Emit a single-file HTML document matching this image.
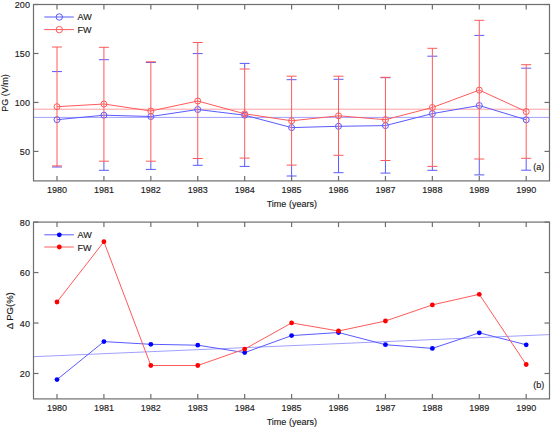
<!DOCTYPE html>
<html><head><meta charset="utf-8"><style>
html,body{margin:0;padding:0;background:#fff;}
body{width:551px;height:428px;overflow:hidden;}
svg{display:block;font-family:"Liberation Sans",sans-serif;font-size:9.5px;fill:#1a1a1a;}
text{stroke:#1a1a1a;stroke-width:0.15px;}
</style></head><body>
<svg width="551" height="428" viewBox="0 0 551 428">
<rect x="0" y="0" width="551" height="428" fill="#fff"/>
<line x1="33.5" y1="109.2" x2="549.5" y2="109.2" stroke="#ffa0a0" stroke-width="1"/>
<line x1="33.5" y1="117.4" x2="549.5" y2="117.4" stroke="#a0a0ff" stroke-width="1"/>
<line x1="57" y1="165.9" x2="57" y2="167" stroke="#5a5aff" stroke-width="1" />
<line x1="52" y1="71.6" x2="62" y2="71.6" stroke="#5a5aff" stroke-width="1" />
<line x1="52" y1="167.0" x2="62" y2="167.0" stroke="#5a5aff" stroke-width="1" />
<line x1="103.92" y1="161.2" x2="103.92" y2="170.3" stroke="#5a5aff" stroke-width="1" />
<line x1="98.92" y1="59.7" x2="108.92" y2="59.7" stroke="#5a5aff" stroke-width="1" />
<line x1="98.92" y1="170.3" x2="108.92" y2="170.3" stroke="#5a5aff" stroke-width="1" />
<line x1="150.84" y1="161.2" x2="150.84" y2="169.4" stroke="#5a5aff" stroke-width="1" />
<line x1="145.84" y1="62.5" x2="155.84" y2="62.5" stroke="#5a5aff" stroke-width="1" />
<line x1="145.84" y1="169.4" x2="155.84" y2="169.4" stroke="#5a5aff" stroke-width="1" />
<line x1="197.76" y1="158.5" x2="197.76" y2="165.3" stroke="#5a5aff" stroke-width="1" />
<line x1="192.76" y1="53.6" x2="202.76" y2="53.6" stroke="#5a5aff" stroke-width="1" />
<line x1="192.76" y1="165.3" x2="202.76" y2="165.3" stroke="#5a5aff" stroke-width="1" />
<line x1="244.68" y1="63.4" x2="244.68" y2="69" stroke="#5a5aff" stroke-width="1" />
<line x1="244.68" y1="158.1" x2="244.68" y2="166.4" stroke="#5a5aff" stroke-width="1" />
<line x1="239.68" y1="63.4" x2="249.68" y2="63.4" stroke="#5a5aff" stroke-width="1" />
<line x1="239.68" y1="166.4" x2="249.68" y2="166.4" stroke="#5a5aff" stroke-width="1" />
<line x1="291.6" y1="165.1" x2="291.6" y2="176" stroke="#5a5aff" stroke-width="1" />
<line x1="286.6" y1="79.7" x2="296.6" y2="79.7" stroke="#5a5aff" stroke-width="1" />
<line x1="286.6" y1="176.0" x2="296.6" y2="176.0" stroke="#5a5aff" stroke-width="1" />
<line x1="338.52" y1="155.3" x2="338.52" y2="172.7" stroke="#5a5aff" stroke-width="1" />
<line x1="333.52" y1="79.3" x2="343.52" y2="79.3" stroke="#5a5aff" stroke-width="1" />
<line x1="333.52" y1="172.7" x2="343.52" y2="172.7" stroke="#5a5aff" stroke-width="1" />
<line x1="385.44" y1="160.5" x2="385.44" y2="173.1" stroke="#5a5aff" stroke-width="1" />
<line x1="380.44" y1="77.7" x2="390.44" y2="77.7" stroke="#5a5aff" stroke-width="1" />
<line x1="380.44" y1="173.1" x2="390.44" y2="173.1" stroke="#5a5aff" stroke-width="1" />
<line x1="432.36" y1="166.4" x2="432.36" y2="170.3" stroke="#5a5aff" stroke-width="1" />
<line x1="427.36" y1="56.2" x2="437.36" y2="56.2" stroke="#5a5aff" stroke-width="1" />
<line x1="427.36" y1="170.3" x2="437.36" y2="170.3" stroke="#5a5aff" stroke-width="1" />
<line x1="479.28" y1="159" x2="479.28" y2="174.9" stroke="#5a5aff" stroke-width="1" />
<line x1="474.28" y1="35.4" x2="484.28" y2="35.4" stroke="#5a5aff" stroke-width="1" />
<line x1="474.28" y1="174.9" x2="484.28" y2="174.9" stroke="#5a5aff" stroke-width="1" />
<line x1="526.2" y1="158.3" x2="526.2" y2="170.2" stroke="#5a5aff" stroke-width="1" />
<line x1="521.2" y1="68.2" x2="531.2" y2="68.2" stroke="#5a5aff" stroke-width="1" />
<line x1="521.2" y1="170.2" x2="531.2" y2="170.2" stroke="#5a5aff" stroke-width="1" />
<polyline points="57,119.7 103.92,115.2 150.84,116.5 197.76,109.5 244.68,115.2 291.6,127.6 338.52,126.3 385.44,125.6 432.36,113.6 479.28,105.5 526.2,119.8" fill="none" stroke="#5a5aff" stroke-width="1" />
<circle cx="57" cy="119.7" r="3.0" fill="none" stroke="#5a5aff" stroke-width="1" />
<circle cx="103.92" cy="115.2" r="3.0" fill="none" stroke="#5a5aff" stroke-width="1" />
<circle cx="150.84" cy="116.5" r="3.0" fill="none" stroke="#5a5aff" stroke-width="1" />
<circle cx="197.76" cy="109.5" r="3.0" fill="none" stroke="#5a5aff" stroke-width="1" />
<circle cx="244.68" cy="115.2" r="3.0" fill="none" stroke="#5a5aff" stroke-width="1" />
<circle cx="291.6" cy="127.6" r="3.0" fill="none" stroke="#5a5aff" stroke-width="1" />
<circle cx="338.52" cy="126.3" r="3.0" fill="none" stroke="#5a5aff" stroke-width="1" />
<circle cx="385.44" cy="125.6" r="3.0" fill="none" stroke="#5a5aff" stroke-width="1" />
<circle cx="432.36" cy="113.6" r="3.0" fill="none" stroke="#5a5aff" stroke-width="1" />
<circle cx="479.28" cy="105.5" r="3.0" fill="none" stroke="#5a5aff" stroke-width="1" />
<circle cx="526.2" cy="119.8" r="3.0" fill="none" stroke="#5a5aff" stroke-width="1" />
<line x1="57" y1="47" x2="57" y2="165.9" stroke="#ff5a5a" stroke-width="1" />
<line x1="52" y1="47.0" x2="62" y2="47.0" stroke="#ff5a5a" stroke-width="1" />
<line x1="52" y1="165.9" x2="62" y2="165.9" stroke="#ff5a5a" stroke-width="1" />
<line x1="103.92" y1="47.3" x2="103.92" y2="161.2" stroke="#ff5a5a" stroke-width="1" />
<line x1="98.92" y1="47.3" x2="108.92" y2="47.3" stroke="#ff5a5a" stroke-width="1" />
<line x1="98.92" y1="161.2" x2="108.92" y2="161.2" stroke="#ff5a5a" stroke-width="1" />
<line x1="150.84" y1="61.8" x2="150.84" y2="161.2" stroke="#ff5a5a" stroke-width="1" />
<line x1="145.84" y1="61.8" x2="155.84" y2="61.8" stroke="#ff5a5a" stroke-width="1" />
<line x1="145.84" y1="161.2" x2="155.84" y2="161.2" stroke="#ff5a5a" stroke-width="1" />
<line x1="197.76" y1="42.5" x2="197.76" y2="158.5" stroke="#ff5a5a" stroke-width="1" />
<line x1="192.76" y1="42.5" x2="202.76" y2="42.5" stroke="#ff5a5a" stroke-width="1" />
<line x1="192.76" y1="158.5" x2="202.76" y2="158.5" stroke="#ff5a5a" stroke-width="1" />
<line x1="244.68" y1="69" x2="244.68" y2="158.1" stroke="#ff5a5a" stroke-width="1" />
<line x1="239.68" y1="69.0" x2="249.68" y2="69.0" stroke="#ff5a5a" stroke-width="1" />
<line x1="239.68" y1="158.1" x2="249.68" y2="158.1" stroke="#ff5a5a" stroke-width="1" />
<line x1="291.6" y1="76.2" x2="291.6" y2="165.1" stroke="#ff5a5a" stroke-width="1" />
<line x1="286.6" y1="76.2" x2="296.6" y2="76.2" stroke="#ff5a5a" stroke-width="1" />
<line x1="286.6" y1="165.1" x2="296.6" y2="165.1" stroke="#ff5a5a" stroke-width="1" />
<line x1="338.52" y1="76.2" x2="338.52" y2="155.3" stroke="#ff5a5a" stroke-width="1" />
<line x1="333.52" y1="76.2" x2="343.52" y2="76.2" stroke="#ff5a5a" stroke-width="1" />
<line x1="333.52" y1="155.3" x2="343.52" y2="155.3" stroke="#ff5a5a" stroke-width="1" />
<line x1="385.44" y1="77.3" x2="385.44" y2="160.5" stroke="#ff5a5a" stroke-width="1" />
<line x1="380.44" y1="77.3" x2="390.44" y2="77.3" stroke="#ff5a5a" stroke-width="1" />
<line x1="380.44" y1="160.5" x2="390.44" y2="160.5" stroke="#ff5a5a" stroke-width="1" />
<line x1="432.36" y1="48.3" x2="432.36" y2="166.4" stroke="#ff5a5a" stroke-width="1" />
<line x1="427.36" y1="48.3" x2="437.36" y2="48.3" stroke="#ff5a5a" stroke-width="1" />
<line x1="427.36" y1="166.4" x2="437.36" y2="166.4" stroke="#ff5a5a" stroke-width="1" />
<line x1="479.28" y1="20.3" x2="479.28" y2="159" stroke="#ff5a5a" stroke-width="1" />
<line x1="474.28" y1="20.3" x2="484.28" y2="20.3" stroke="#ff5a5a" stroke-width="1" />
<line x1="474.28" y1="159.0" x2="484.28" y2="159.0" stroke="#ff5a5a" stroke-width="1" />
<line x1="526.2" y1="64.7" x2="526.2" y2="158.3" stroke="#ff5a5a" stroke-width="1" />
<line x1="521.2" y1="64.7" x2="531.2" y2="64.7" stroke="#ff5a5a" stroke-width="1" />
<line x1="521.2" y1="158.3" x2="531.2" y2="158.3" stroke="#ff5a5a" stroke-width="1" />
<polyline points="57,106.7 103.92,104.0 150.84,111.0 197.76,101.0 244.68,113.8 291.6,120.8 338.52,115.8 385.44,119.7 432.36,107.5 479.28,90.1 526.2,111.6" fill="none" stroke="#ff5a5a" stroke-width="1" />
<circle cx="57" cy="106.7" r="3.0" fill="none" stroke="#ff5a5a" stroke-width="1" />
<circle cx="103.92" cy="104.0" r="3.0" fill="none" stroke="#ff5a5a" stroke-width="1" />
<circle cx="150.84" cy="111.0" r="3.0" fill="none" stroke="#ff5a5a" stroke-width="1" />
<circle cx="197.76" cy="101.0" r="3.0" fill="none" stroke="#ff5a5a" stroke-width="1" />
<circle cx="244.68" cy="113.8" r="3.0" fill="none" stroke="#ff5a5a" stroke-width="1" />
<circle cx="291.6" cy="120.8" r="3.0" fill="none" stroke="#ff5a5a" stroke-width="1" />
<circle cx="338.52" cy="115.8" r="3.0" fill="none" stroke="#ff5a5a" stroke-width="1" />
<circle cx="385.44" cy="119.7" r="3.0" fill="none" stroke="#ff5a5a" stroke-width="1" />
<circle cx="432.36" cy="107.5" r="3.0" fill="none" stroke="#ff5a5a" stroke-width="1" />
<circle cx="479.28" cy="90.1" r="3.0" fill="none" stroke="#ff5a5a" stroke-width="1" />
<circle cx="526.2" cy="111.6" r="3.0" fill="none" stroke="#ff5a5a" stroke-width="1" />
<rect x="33.5" y="4.5" width="516" height="176.4" fill="none" stroke="#6e6e6e" stroke-width="1.2"/>
<line x1="57" y1="180.9" x2="57" y2="175.9" stroke="#6e6e6e" stroke-width="1.2"/>
<line x1="57" y1="4.5" x2="57" y2="9.5" stroke="#6e6e6e" stroke-width="1.2"/>
<text transform="translate(57,192.7) scale(0.95,1)" text-anchor="middle">1980</text>
<line x1="103.92" y1="180.9" x2="103.92" y2="175.9" stroke="#6e6e6e" stroke-width="1.2"/>
<line x1="103.92" y1="4.5" x2="103.92" y2="9.5" stroke="#6e6e6e" stroke-width="1.2"/>
<text transform="translate(103.92,192.7) scale(0.95,1)" text-anchor="middle">1981</text>
<line x1="150.84" y1="180.9" x2="150.84" y2="175.9" stroke="#6e6e6e" stroke-width="1.2"/>
<line x1="150.84" y1="4.5" x2="150.84" y2="9.5" stroke="#6e6e6e" stroke-width="1.2"/>
<text transform="translate(150.84,192.7) scale(0.95,1)" text-anchor="middle">1982</text>
<line x1="197.76" y1="180.9" x2="197.76" y2="175.9" stroke="#6e6e6e" stroke-width="1.2"/>
<line x1="197.76" y1="4.5" x2="197.76" y2="9.5" stroke="#6e6e6e" stroke-width="1.2"/>
<text transform="translate(197.76,192.7) scale(0.95,1)" text-anchor="middle">1983</text>
<line x1="244.68" y1="180.9" x2="244.68" y2="175.9" stroke="#6e6e6e" stroke-width="1.2"/>
<line x1="244.68" y1="4.5" x2="244.68" y2="9.5" stroke="#6e6e6e" stroke-width="1.2"/>
<text transform="translate(244.68,192.7) scale(0.95,1)" text-anchor="middle">1984</text>
<line x1="291.6" y1="180.9" x2="291.6" y2="175.9" stroke="#6e6e6e" stroke-width="1.2"/>
<line x1="291.6" y1="4.5" x2="291.6" y2="9.5" stroke="#6e6e6e" stroke-width="1.2"/>
<text transform="translate(291.6,192.7) scale(0.95,1)" text-anchor="middle">1985</text>
<line x1="338.52" y1="180.9" x2="338.52" y2="175.9" stroke="#6e6e6e" stroke-width="1.2"/>
<line x1="338.52" y1="4.5" x2="338.52" y2="9.5" stroke="#6e6e6e" stroke-width="1.2"/>
<text transform="translate(338.52,192.7) scale(0.95,1)" text-anchor="middle">1986</text>
<line x1="385.44" y1="180.9" x2="385.44" y2="175.9" stroke="#6e6e6e" stroke-width="1.2"/>
<line x1="385.44" y1="4.5" x2="385.44" y2="9.5" stroke="#6e6e6e" stroke-width="1.2"/>
<text transform="translate(385.44,192.7) scale(0.95,1)" text-anchor="middle">1987</text>
<line x1="432.36" y1="180.9" x2="432.36" y2="175.9" stroke="#6e6e6e" stroke-width="1.2"/>
<line x1="432.36" y1="4.5" x2="432.36" y2="9.5" stroke="#6e6e6e" stroke-width="1.2"/>
<text transform="translate(432.36,192.7) scale(0.95,1)" text-anchor="middle">1988</text>
<line x1="479.28" y1="180.9" x2="479.28" y2="175.9" stroke="#6e6e6e" stroke-width="1.2"/>
<line x1="479.28" y1="4.5" x2="479.28" y2="9.5" stroke="#6e6e6e" stroke-width="1.2"/>
<text transform="translate(479.28,192.7) scale(0.95,1)" text-anchor="middle">1989</text>
<line x1="526.2" y1="180.9" x2="526.2" y2="175.9" stroke="#6e6e6e" stroke-width="1.2"/>
<line x1="526.2" y1="4.5" x2="526.2" y2="9.5" stroke="#6e6e6e" stroke-width="1.2"/>
<text transform="translate(526.2,192.7) scale(0.95,1)" text-anchor="middle">1990</text>
<line x1="33.5" y1="151.43" x2="38.5" y2="151.43" stroke="#6e6e6e" stroke-width="1.2"/>
<line x1="549.5" y1="151.43" x2="544.5" y2="151.43" stroke="#6e6e6e" stroke-width="1.2"/>
<text transform="translate(29.9,154.93) scale(0.95,1)" text-anchor="end">50</text>
<line x1="33.5" y1="102.45" x2="38.5" y2="102.45" stroke="#6e6e6e" stroke-width="1.2"/>
<line x1="549.5" y1="102.45" x2="544.5" y2="102.45" stroke="#6e6e6e" stroke-width="1.2"/>
<text transform="translate(29.9,105.95) scale(0.95,1)" text-anchor="end">100</text>
<line x1="33.5" y1="53.48" x2="38.5" y2="53.48" stroke="#6e6e6e" stroke-width="1.2"/>
<line x1="549.5" y1="53.48" x2="544.5" y2="53.48" stroke="#6e6e6e" stroke-width="1.2"/>
<text transform="translate(29.9,56.98) scale(0.95,1)" text-anchor="end">150</text>
<line x1="33.5" y1="4.5" x2="38.5" y2="4.5" stroke="#6e6e6e" stroke-width="1.2"/>
<line x1="549.5" y1="4.5" x2="544.5" y2="4.5" stroke="#6e6e6e" stroke-width="1.2"/>
<text transform="translate(29.9,8) scale(0.95,1)" text-anchor="end">200</text>
<text transform="translate(291.8,207.1) scale(0.95,1)" text-anchor="middle">Time (years)</text>
<line x1="44.3" y1="17.0" x2="73.8" y2="17.0" stroke="#5a5aff" stroke-width="1" />
<circle cx="59.3" cy="17.0" r="3.2" fill="none" stroke="#5a5aff" stroke-width="1" />
<text transform="translate(77.5,20) scale(0.95,1)">AW</text>
<line x1="44.3" y1="29.6" x2="73.8" y2="29.6" stroke="#ff5a5a" stroke-width="1" />
<circle cx="59.3" cy="29.6" r="3.2" fill="none" stroke="#ff5a5a" stroke-width="1" />
<text transform="translate(77.5,32.6) scale(0.95,1)">FW</text>
<text transform="translate(533.3,170.3) scale(0.95,1)">(a)</text>
<text transform="translate(8.3,93) rotate(-90) scale(0.95,1)" text-anchor="middle">PG (V/m)</text>
<line x1="33.5" y1="356.7" x2="549.5" y2="334.6" stroke="#a0a0ff" stroke-width="1"/>
<polyline points="57,379.6 103.92,341.6 150.84,344.3 197.76,345.2 244.68,352.6 291.6,335.6 338.52,332.5 385.44,344.7 432.36,348.40000000000003 479.28,332.8 526.2,344.8" fill="none" stroke="#5a5aff" stroke-width="1" />
<circle cx="57" cy="379.6" r="2.4" fill="#0000ff"/>
<circle cx="103.92" cy="341.6" r="2.4" fill="#0000ff"/>
<circle cx="150.84" cy="344.3" r="2.4" fill="#0000ff"/>
<circle cx="197.76" cy="345.2" r="2.4" fill="#0000ff"/>
<circle cx="244.68" cy="352.6" r="2.4" fill="#0000ff"/>
<circle cx="291.6" cy="335.6" r="2.4" fill="#0000ff"/>
<circle cx="338.52" cy="332.5" r="2.4" fill="#0000ff"/>
<circle cx="385.44" cy="344.7" r="2.4" fill="#0000ff"/>
<circle cx="432.36" cy="348.40000000000003" r="2.4" fill="#0000ff"/>
<circle cx="479.28" cy="332.8" r="2.4" fill="#0000ff"/>
<circle cx="526.2" cy="344.8" r="2.4" fill="#0000ff"/>
<polyline points="57,302.0 103.92,241.70000000000002 150.84,365.5 197.76,365.5 244.68,349.1 291.6,322.90000000000003 338.52,331.0 385.44,321.0 432.36,304.90000000000003 479.28,294.3 526.2,364.5" fill="none" stroke="#ff5a5a" stroke-width="1" />
<circle cx="57" cy="302.0" r="2.4" fill="#ff0000"/>
<circle cx="103.92" cy="241.70000000000002" r="2.4" fill="#ff0000"/>
<circle cx="150.84" cy="365.5" r="2.4" fill="#ff0000"/>
<circle cx="197.76" cy="365.5" r="2.4" fill="#ff0000"/>
<circle cx="244.68" cy="349.1" r="2.4" fill="#ff0000"/>
<circle cx="291.6" cy="322.90000000000003" r="2.4" fill="#ff0000"/>
<circle cx="338.52" cy="331.0" r="2.4" fill="#ff0000"/>
<circle cx="385.44" cy="321.0" r="2.4" fill="#ff0000"/>
<circle cx="432.36" cy="304.90000000000003" r="2.4" fill="#ff0000"/>
<circle cx="479.28" cy="294.3" r="2.4" fill="#ff0000"/>
<circle cx="526.2" cy="364.5" r="2.4" fill="#ff0000"/>
<rect x="33.5" y="222.1" width="516" height="176.8" fill="none" stroke="#6e6e6e" stroke-width="1.2"/>
<line x1="57" y1="398.9" x2="57" y2="393.9" stroke="#6e6e6e" stroke-width="1.2"/>
<line x1="57" y1="222.1" x2="57" y2="227.1" stroke="#6e6e6e" stroke-width="1.2"/>
<text transform="translate(57,410.7) scale(0.95,1)" text-anchor="middle">1980</text>
<line x1="103.92" y1="398.9" x2="103.92" y2="393.9" stroke="#6e6e6e" stroke-width="1.2"/>
<line x1="103.92" y1="222.1" x2="103.92" y2="227.1" stroke="#6e6e6e" stroke-width="1.2"/>
<text transform="translate(103.92,410.7) scale(0.95,1)" text-anchor="middle">1981</text>
<line x1="150.84" y1="398.9" x2="150.84" y2="393.9" stroke="#6e6e6e" stroke-width="1.2"/>
<line x1="150.84" y1="222.1" x2="150.84" y2="227.1" stroke="#6e6e6e" stroke-width="1.2"/>
<text transform="translate(150.84,410.7) scale(0.95,1)" text-anchor="middle">1982</text>
<line x1="197.76" y1="398.9" x2="197.76" y2="393.9" stroke="#6e6e6e" stroke-width="1.2"/>
<line x1="197.76" y1="222.1" x2="197.76" y2="227.1" stroke="#6e6e6e" stroke-width="1.2"/>
<text transform="translate(197.76,410.7) scale(0.95,1)" text-anchor="middle">1983</text>
<line x1="244.68" y1="398.9" x2="244.68" y2="393.9" stroke="#6e6e6e" stroke-width="1.2"/>
<line x1="244.68" y1="222.1" x2="244.68" y2="227.1" stroke="#6e6e6e" stroke-width="1.2"/>
<text transform="translate(244.68,410.7) scale(0.95,1)" text-anchor="middle">1984</text>
<line x1="291.6" y1="398.9" x2="291.6" y2="393.9" stroke="#6e6e6e" stroke-width="1.2"/>
<line x1="291.6" y1="222.1" x2="291.6" y2="227.1" stroke="#6e6e6e" stroke-width="1.2"/>
<text transform="translate(291.6,410.7) scale(0.95,1)" text-anchor="middle">1985</text>
<line x1="338.52" y1="398.9" x2="338.52" y2="393.9" stroke="#6e6e6e" stroke-width="1.2"/>
<line x1="338.52" y1="222.1" x2="338.52" y2="227.1" stroke="#6e6e6e" stroke-width="1.2"/>
<text transform="translate(338.52,410.7) scale(0.95,1)" text-anchor="middle">1986</text>
<line x1="385.44" y1="398.9" x2="385.44" y2="393.9" stroke="#6e6e6e" stroke-width="1.2"/>
<line x1="385.44" y1="222.1" x2="385.44" y2="227.1" stroke="#6e6e6e" stroke-width="1.2"/>
<text transform="translate(385.44,410.7) scale(0.95,1)" text-anchor="middle">1987</text>
<line x1="432.36" y1="398.9" x2="432.36" y2="393.9" stroke="#6e6e6e" stroke-width="1.2"/>
<line x1="432.36" y1="222.1" x2="432.36" y2="227.1" stroke="#6e6e6e" stroke-width="1.2"/>
<text transform="translate(432.36,410.7) scale(0.95,1)" text-anchor="middle">1988</text>
<line x1="479.28" y1="398.9" x2="479.28" y2="393.9" stroke="#6e6e6e" stroke-width="1.2"/>
<line x1="479.28" y1="222.1" x2="479.28" y2="227.1" stroke="#6e6e6e" stroke-width="1.2"/>
<text transform="translate(479.28,410.7) scale(0.95,1)" text-anchor="middle">1989</text>
<line x1="526.2" y1="398.9" x2="526.2" y2="393.9" stroke="#6e6e6e" stroke-width="1.2"/>
<line x1="526.2" y1="222.1" x2="526.2" y2="227.1" stroke="#6e6e6e" stroke-width="1.2"/>
<text transform="translate(526.2,410.7) scale(0.95,1)" text-anchor="middle">1990</text>
<line x1="33.5" y1="373.48" x2="38.5" y2="373.48" stroke="#6e6e6e" stroke-width="1.2"/>
<line x1="549.5" y1="373.48" x2="544.5" y2="373.48" stroke="#6e6e6e" stroke-width="1.2"/>
<text transform="translate(29.9,377.28) scale(0.95,1)" text-anchor="end">20</text>
<line x1="33.5" y1="323.02" x2="38.5" y2="323.02" stroke="#6e6e6e" stroke-width="1.2"/>
<line x1="549.5" y1="323.02" x2="544.5" y2="323.02" stroke="#6e6e6e" stroke-width="1.2"/>
<text transform="translate(29.9,326.82) scale(0.95,1)" text-anchor="end">40</text>
<line x1="33.5" y1="272.56" x2="38.5" y2="272.56" stroke="#6e6e6e" stroke-width="1.2"/>
<line x1="549.5" y1="272.56" x2="544.5" y2="272.56" stroke="#6e6e6e" stroke-width="1.2"/>
<text transform="translate(29.9,276.36) scale(0.95,1)" text-anchor="end">60</text>
<line x1="33.5" y1="222.1" x2="38.5" y2="222.1" stroke="#6e6e6e" stroke-width="1.2"/>
<line x1="549.5" y1="222.1" x2="544.5" y2="222.1" stroke="#6e6e6e" stroke-width="1.2"/>
<text transform="translate(29.9,225.9) scale(0.95,1)" text-anchor="end">80</text>
<text transform="translate(291.8,425.1) scale(0.95,1)" text-anchor="middle">Time (years)</text>
<line x1="44.3" y1="234.8" x2="73.8" y2="234.8" stroke="#5a5aff" stroke-width="1" />
<circle cx="59.3" cy="234.8" r="2.4" fill="#0000ff"/>
<text transform="translate(77.5,238.3) scale(0.95,1)">AW</text>
<line x1="44.3" y1="247.0" x2="73.8" y2="247.0" stroke="#ff5a5a" stroke-width="1" />
<circle cx="59.3" cy="247.0" r="2.4" fill="#ff0000"/>
<text transform="translate(77.5,250.5) scale(0.95,1)">FW</text>
<text transform="translate(533.3,387.7) scale(0.95,1)">(b)</text>
<text transform="translate(12.9,310.7) rotate(-90) scale(1.0,1)" text-anchor="middle">&#916; PG(%)</text>
</svg>
</body></html>
